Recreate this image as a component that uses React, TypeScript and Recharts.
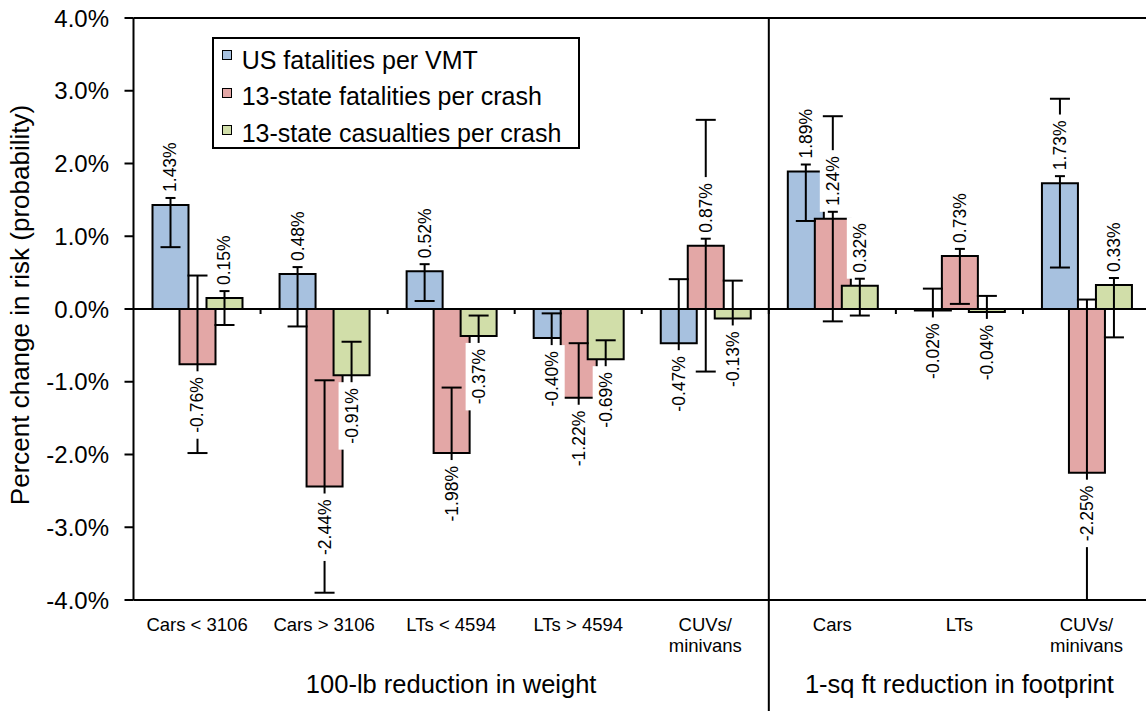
import React from "react";
import { BarChart, Bar, XAxis, YAxis, ErrorBar, LabelList, ReferenceLine, Legend } from "recharts";

// categories along the bottom, split into the two study groups
const categories = ["Cars < 3106", "Cars > 3106", "LTs < 4594", "LTs > 4594", "CUVs/\nminivans", "Cars", "LTs", "CUVs/\nminivans"];
const groupNames = ["100-lb reduction in weight", "1-sq ft reduction in footprint"];
const groupSizes = [5, 3];

const seriesNames = ["US fatalities per VMT", "13-state fatalities per crash", "13-state casualties per crash"];

// percent change in risk, with the half-width of each error bar
const usFatalities = [1.43, 0.48, 0.52, -0.4, -0.47, 1.89, -0.02, 1.73];
const usFatalitiesErr = [0.58, 0.72, 0.41, 0.34, 0.88, 0.68, 0.3, 1.16];
const stateFatalities = [-0.76, -2.44, -1.98, -1.22, 0.87, 1.24, 0.73, -2.25];
const stateFatalitiesErr = [1.22, 1.46, 0.9, 0.75, 1.73, 1.41, 0.66, 2.38];
const stateCasualties = [0.15, -0.91, -0.37, -0.69, -0.13, 0.32, -0.04, 0.33];
const stateCasualtiesErr = [0.37, 0.46, 0.28, 0.26, 0.52, 0.41, 0.22, 0.72];

const yTicks = [-4, -3, -2, -1, 0, 1, 2, 3, 4];

const COLORS = ["#a7c1df", "#e3a7a6", "#d1dea9"];
const FONT = '"Liberation Sans", Arial, sans-serif';
const W = 1150;
const H = 711;
const Y_AXIS_W = 133.5;
const Y_MIN = yTicks[0];
const Y_MAX = yTicks[yTicks.length - 1];
const LABEL_FS = 17.5;

// keep whiskers inside the plotted range
const clipErr = (v: number, e: number) => [Math.min(e, v - Y_MIN), Math.min(e, Y_MAX - v)];

const seriesKeys = ["us", "fat", "cas"];
const data = categories.map((name, i) => ({
  idx: i,
  name,
  us: usFatalities[i],
  usErr: clipErr(usFatalities[i], usFatalitiesErr[i]),
  fat: stateFatalities[i],
  fatErr: clipErr(stateFatalities[i], stateFatalitiesErr[i]),
  cas: stateCasualties[i],
  casErr: clipErr(stateCasualties[i], stateCasualtiesErr[i]),
}));

const groupStarts = groupSizes.map((_, i) => groupSizes.slice(0, i).reduce((a, b) => a + b, 0));
const dividers = groupStarts.slice(1);

const CHAR_EM: Record<string, number> = { "-": 0.333, ".": 0.278, "%": 0.889 };
const textLen = (s: string, fs: number) => [...s].reduce((w, c) => w + (CHAR_EM[c] ?? 0.556) * fs, 0);

function BarValueLabel(props: any) {
  const vb = props.viewBox ?? props;
  const { x, y, width, height } = vb;
  const v = Number(props.value);
  if (x == null || !Number.isFinite(v)) return null;
  const cx = x + width / 2;
  const top = Math.min(y, y + height);
  const bottom = Math.max(y, y + height);
  const txt = v.toFixed(2) + "%";
  const len = textLen(txt, LABEL_FS);
  const up = v >= 0;
  const edge = up ? top - 7 : bottom + 7;
  const tStart = up ? top - 13 : bottom + 13;
  const far = up ? tStart - len - 6 : tStart + len + 6;
  return (
    <g>
      <rect x={cx - 13} y={Math.min(edge, far)} width={26} height={Math.abs(far - edge)} fill="#fff" />
      <text
        x={cx}
        y={tStart}
        transform={`rotate(-90 ${cx} ${tStart})`}
        textAnchor={up ? "start" : "end"}
        dominantBaseline="central"
        fontFamily={FONT}
        fontSize={LABEL_FS}
        fill="#000"
      >
        {txt}
      </text>
      {up && <line x1={cx - 5} x2={cx + 5} y1={edge} y2={edge} stroke="#000" strokeWidth={2} />}
    </g>
  );
}

function CategoryTick({ x, y, payload }: any) {
  const lines = String(categories[payload.value] ?? "").split("\n");
  return (
    <text x={x} y={y + 31} textAnchor="middle" fontFamily={FONT} fontSize={18.5} fill="#000">
      {lines.map((l, i) => (
        <tspan key={i} x={x} dy={i === 0 ? 0 : 21}>
          {l}
        </tspan>
      ))}
    </text>
  );
}

// group title centred under its run of categories, drawn at the group's first tick
function GroupTick({ x, y, payload }: any) {
  const g = groupStarts.indexOf(payload.value);
  if (g < 0) return <g />;
  const step = payload.offset > 0 ? payload.offset * 2 : (W - Y_AXIS_W) / categories.length;
  const cx = x + (groupSizes[g] / 2 - 0.5) * step;
  return (
    <text x={cx} y={y + 32.5} textAnchor="middle" fontFamily={FONT} fontSize={25.5} fill="#000">
      {groupNames[g]}
    </text>
  );
}

function YTitle({ viewBox }: any) {
  const x = viewBox.x + 29;
  const cy = viewBox.y + viewBox.height / 2 - 4;
  return (
    <text x={x} y={cy} transform={`rotate(-90 ${x} ${cy})`} textAnchor="middle" fontFamily={FONT} fontSize={26} fill="#000">
      Percent change in risk (probability)
    </text>
  );
}

function ZeroLine(props: any) {
  const { x1, x2, y1 } = props;
  const step = (x2 - x1) / categories.length;
  return (
    <g>
      <line x1={x1} x2={x2} y1={y1} y2={y1} stroke="#000" strokeWidth={2} />
      {categories.map((_, i) => (
        <line key={i} x1={x1 + step * (i + 1)} x2={x1 + step * (i + 1)} y1={y1} y2={y1 + 5} stroke="#000" strokeWidth={2} />
      ))}
    </g>
  );
}

function Divider(props: any) {
  const { x1, y1, y2 } = props;
  return <line x1={x1} x2={x1} y1={Math.min(y1, y2)} y2={H} stroke="#000" strokeWidth={2} />;
}

function LegendBox() {
  return (
    <div
      style={{
        boxSizing: "border-box",
        width: 368,
        height: 112,
        border: "2px solid #000",
        background: "#fff",
        position: "relative",
        fontFamily: FONT,
        fontSize: 25,
        lineHeight: "30px",
        color: "#000",
      }}
    >
      {seriesNames.map((n, i) => (
        <React.Fragment key={n}>
          <div
            style={{
              position: "absolute",
              left: 8,
              top: 11.5 + i * 37.5,
              width: 10,
              height: 10,
              boxSizing: "border-box",
              border: "1.5px solid #000",
              background: COLORS[i],
            }}
          />
          <div style={{ position: "absolute", left: 28, top: 6 + i * 36.5, whiteSpace: "nowrap" }}>{n}</div>
        </React.Fragment>
      ))}
    </div>
  );
}

export default function App() {
  return (
    <div style={{ position: "fixed", left: 0, top: 0, width: 1146, height: 711, overflow: "hidden", background: "#fff" }}>
      <BarChart
        width={W}
        height={H}
        data={data}
        margin={{ top: 18, right: 0, bottom: 0, left: 0 }}
        barSize={36}
        barGap={-9}
        barCategoryGap={0}
      >
        <XAxis
          dataKey="idx"
          height={60}
          interval={0}
          tickSize={0}
          tickMargin={0}
          tickLine={false}
          axisLine={{ stroke: "#000", strokeWidth: 2 }}
          tick={<CategoryTick />}
        />
        <XAxis
          xAxisId="group"
          dataKey="idx"
          height={51}
          interval={0}
          tickSize={0}
          tickMargin={0}
          tickLine={false}
          axisLine={false}
          tick={<GroupTick />}
        />
        <YAxis
          domain={[Y_MIN, Y_MAX]}
          ticks={yTicks}
          allowDataOverflow
          interval={0}
          width={Y_AXIS_W}
          tickFormatter={(v: number) => v.toFixed(1) + "%"}
          tick={{ fill: "#000", fontSize: 24, fontFamily: FONT }}
          tickSize={9}
          tickMargin={15.5}
          axisLine={{ stroke: "#000", strokeWidth: 2 }}
          tickLine={{ stroke: "#000", strokeWidth: 2 }}
          label={(p: any) => <YTitle {...p} />}
        />
        <ReferenceLine y={Y_MAX} stroke="#000" strokeWidth={2} />
        <ReferenceLine y={0} shape={(p: any) => <ZeroLine {...p} />} />
        {dividers.map((d) => (
          <ReferenceLine key={d} x={d} position="start" shape={(p: any) => <Divider {...p} />} />
        ))}
        <Legend
          layout="vertical"
          align="center"
          verticalAlign="middle"
          wrapperStyle={{ left: 211.7, top: 36.7, width: 368, height: 112 }}
          content={() => <LegendBox />}
        />
        {seriesKeys.map((k, i) => (
          <Bar key={k} dataKey={k} name={seriesNames[i]} fill={COLORS[i]} stroke="#000" strokeWidth={2} isAnimationActive={false}>
            <ErrorBar dataKey={k + "Err"} width={10} strokeWidth={2} stroke="#000" isAnimationActive={false} />
            <LabelList dataKey={k} content={BarValueLabel} />
          </Bar>
        ))}
      </BarChart>
    </div>
  );
}
